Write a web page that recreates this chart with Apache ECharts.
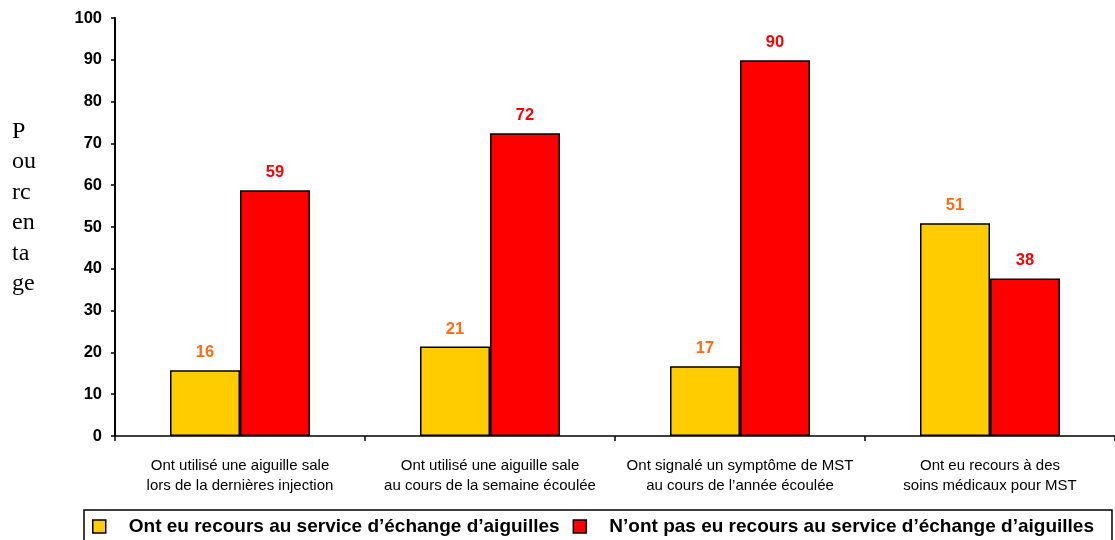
<!DOCTYPE html>
<html lang="fr">
<head>
  <meta charset="UTF-8">
  <title>Pourcentage</title>
  <style>
    html, body { margin: 0; padding: 0; background: #fff; }
  </style>
</head>
<body>
  <div id="main" style="width: 1115px;height:540px;"></div>

  <script src="https://cdn.jsdelivr.net/npm/echarts@6/dist/echarts.min.js"></script>

  <script type="text/javascript">
    // données
    var categories = [
      'Ont utilisé une aiguille sale\nlors de la dernières injection',
      'Ont utilisé une aiguille sale\nau cours de la semaine écoulée',
      'Ont signalé un symptôme de MST\nau cours de l\u2019année écoulée',
      'Ont eu recours à des\nsoins médicaux pour MST'
    ];
    var seriesNames = [
      'Ont eu recours au service d\u2019échange d\u2019aiguilles',
      'N\u2019ont pas eu recours au service d\u2019échange d\u2019aiguilles'
    ];
    var avecService = [15.7, 21.4, 16.7, 50.9];
    var sansService = [58.8, 72.4, 89.9, 37.7];
    var yTicks = [0, 10, 20, 30, 40, 50, 60, 70, 80, 90, 100];

    var myChart = echarts.init(document.getElementById('main'));

    var labelStyle = function (color) {
      return {
        show: true,
        position: 'top',
        distance: 9,
        color: color,
        fontFamily: 'Liberation Sans, Arial, sans-serif',
        fontWeight: 'bold',
        fontSize: 16.5,
        formatter: function (p) { return Math.round(p.value); }
      };
    };

    var option = {
      backgroundColor: '#ffffff',
      animation: false,
      textStyle: { fontFamily: 'Liberation Sans, Arial, sans-serif' },
      grid: {
        left: 115,
        right: 0,
        top: 18,
        bottom: 104,
        containLabel: false
      },
      graphic: [{
        type: 'text',
        left: 12,
        top: 116,
        style: {
          text: 'P\nou\nrc\nen\nta\nge',
          fontFamily: 'Liberation Serif, Times New Roman, serif',
          fontSize: 24,
          lineHeight: 30.5,
          fill: '#000'
        }
      }],
      legend: {
        top: 510,
        left: 84,
        padding: [7, 18, 10, 8],
        itemGap: 13,
        itemWidth: 13,
        itemHeight: 13,
        borderColor: '#000',
        borderWidth: 1.5,
        borderRadius: 0,
        icon: 'rect',
        itemStyle: { borderColor: '#000', borderWidth: 1.5 },
        textStyle: {
          color: '#000',
          fontWeight: 'bold',
          fontSize: 19,
          padding: [0, 0, 0, 18]
        },
        data: seriesNames
      },
      xAxis: {
        type: 'category',
        data: categories,
        axisLine: { lineStyle: { color: '#000', width: 1.5 } },
        axisTick: { show: true, length: 5, lineStyle: { color: '#000', width: 1.5 } },
        axisLabel: {
          color: '#000',
          fontSize: 15,
          lineHeight: 20,
          margin: 20,
          interval: 0
        }
      },
      yAxis: {
        type: 'value',
        min: yTicks[0],
        max: yTicks[yTicks.length - 1],
        interval: 10,
        splitLine: { show: false },
        axisLine: { show: true, lineStyle: { color: '#000', width: 2 } },
        axisTick: { show: true, length: 4, lineStyle: { color: '#000', width: 1.5 } },
        axisLabel: {
          color: '#000',
          fontWeight: 'bold',
          fontSize: 16.5,
          margin: 13
        }
      },
      series: [{
          name: seriesNames[0],
          type: 'bar',
          data: avecService,
          barGap: '0%',
          barCategoryGap: '44%',
          itemStyle: { color: '#FFCC00', borderColor: '#000', borderWidth: 1.5 },
          label: labelStyle('#FF6A13')
        },
        {
          name: seriesNames[1],
          type: 'bar',
          data: sansService,
          itemStyle: { color: '#FF0000', borderColor: '#000', borderWidth: 1.5 },
          label: labelStyle('#FF0000')
        }
      ]
    };

    myChart.setOption(option);
  </script>
</body>
</html>
